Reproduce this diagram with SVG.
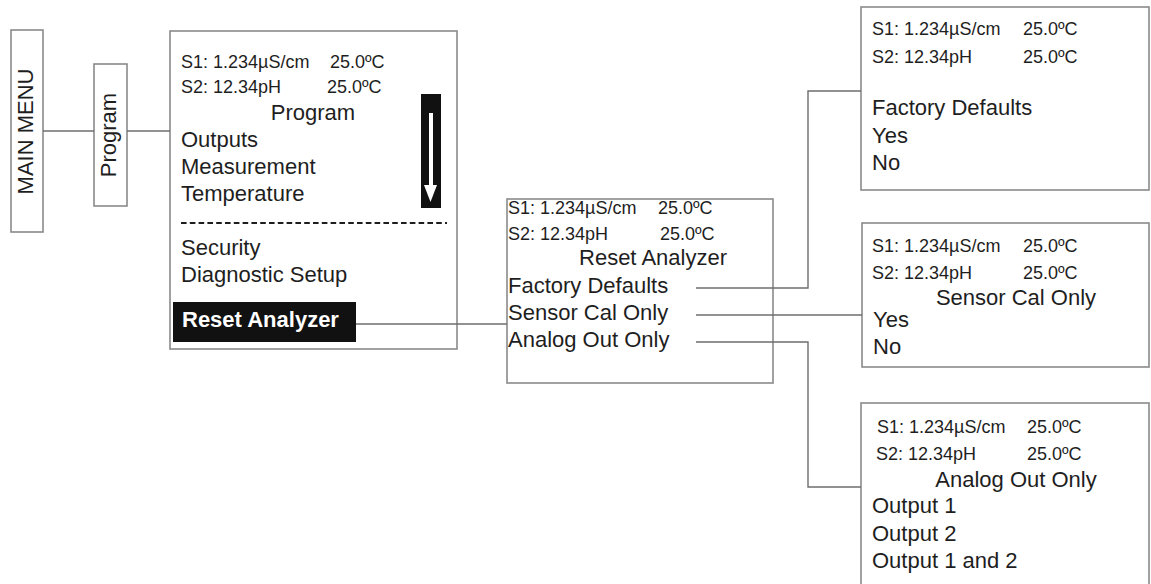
<svg xmlns="http://www.w3.org/2000/svg" width="1151" height="584" viewBox="0 0 1151 584">
<style>
  .box { fill: #ffffff; stroke: #8a8a8a; stroke-width: 1.6; }
  .conn { fill: none; stroke: #6e6e6e; stroke-width: 1.4; }
  text { font-family: "Liberation Sans", Arial, sans-serif; fill: #1e1e1e; }
  .s { font-size: 18px; }
  .m { font-size: 22px; }
  .c { text-anchor: middle; }
  .hl { font-size: 22px; font-weight: bold; fill: #ffffff; }
</style>
<rect width="1151" height="584" fill="#ffffff"/>

<g id="main-menu">
  <rect class="box" x="11" y="30" width="32" height="202"/>
  <text class="m c" transform="translate(33,131.5) rotate(-90)">MAIN MENU</text>
</g>

<g id="program">
  <rect class="box" x="94" y="64" width="33" height="142"/>
  <text class="m c" transform="translate(116,135) rotate(-90)">Program</text>
</g>

<g id="program-screen">
  <rect class="box" x="170" y="31" width="287" height="318"/>
  <text class="s" x="181" y="68">S1: 1.234µS/cm<tspan x="330">25.0ºC</tspan></text>
  <text class="s" x="181" y="93">S2: 12.34pH<tspan x="327">25.0ºC</tspan></text>
  <text class="m c" x="313" y="120">Program</text>
  <text class="m" x="181" y="147">Outputs</text>
  <text class="m" x="181" y="174">Measurement</text>
  <text class="m" x="181" y="201">Temperature</text>
  <rect x="421" y="94" width="20" height="114" fill="#111111"/>
  <rect x="429" y="113" width="4" height="74" fill="#ffffff"/>
  <polygon points="424,185 437,185 430.5,202" fill="#ffffff"/>
  <line x1="181" y1="223" x2="447" y2="223" stroke="#1e1e1e" stroke-width="2.2" stroke-dasharray="5.6 3.2"/>
  <text class="m" x="181" y="255">Security</text>
  <text class="m" x="181" y="282">Diagnostic Setup</text>
  <rect x="173" y="302" width="183" height="40" fill="#111111"/>
  <text class="hl" x="182" y="327">Reset Analyzer</text>
</g>

<g id="reset-analyzer">
  <rect class="box" x="507" y="199" width="266" height="184"/>
  <text class="s" x="508" y="214">S1: 1.234µS/cm<tspan x="658">25.0ºC</tspan></text>
  <text class="s" x="508" y="240">S2: 12.34pH<tspan x="660">25.0ºC</tspan></text>
  <text class="m c" x="653" y="265">Reset Analyzer</text>
  <text class="m" x="508" y="293">Factory Defaults</text>
  <text class="m" x="508" y="320">Sensor Cal Only</text>
  <text class="m" x="508" y="347">Analog Out Only</text>
</g>

<g id="factory-defaults">
  <rect class="box" x="861" y="7" width="288" height="183"/>
  <text class="s" x="872" y="35">S1: 1.234µS/cm<tspan x="1023">25.0ºC</tspan></text>
  <text class="s" x="872" y="63">S2: 12.34pH<tspan x="1023">25.0ºC</tspan></text>
  <text class="m" x="872" y="115">Factory Defaults</text>
  <text class="m" x="872" y="143">Yes</text>
  <text class="m" x="872" y="170">No</text>
</g>

<g id="sensor-cal-only">
  <rect class="box" x="862" y="223" width="287" height="144"/>
  <text class="s" x="872" y="252">S1: 1.234µS/cm<tspan x="1023">25.0ºC</tspan></text>
  <text class="s" x="872" y="279">S2: 12.34pH<tspan x="1023">25.0ºC</tspan></text>
  <text class="m c" x="1016" y="305">Sensor Cal Only</text>
  <text class="m" x="873" y="327">Yes</text>
  <text class="m" x="873" y="354">No</text>
</g>

<g id="analog-out-only">
  <rect class="box" x="861" y="403" width="288" height="200"/>
  <text class="s" x="877" y="433">S1: 1.234µS/cm<tspan x="1027">25.0ºC</tspan></text>
  <text class="s" x="876" y="460">S2: 12.34pH<tspan x="1027">25.0ºC</tspan></text>
  <text class="m c" x="1016" y="487">Analog Out Only</text>
  <text class="m" x="872" y="513">Output 1</text>
  <text class="m" x="872" y="541">Output 2</text>
  <text class="m" x="872" y="568">Output 1 and 2</text>
</g>

<g id="connectors">
  <line class="conn" x1="43" y1="131" x2="94" y2="131"/>
  <line class="conn" x1="127" y1="131" x2="170" y2="131"/>
  <line class="conn" x1="356" y1="324" x2="507" y2="324"/>
  <polyline class="conn" points="696,288 808,288 808,91 861,91"/>
  <line class="conn" x1="696" y1="315" x2="862" y2="315"/>
  <polyline class="conn" points="696,342 808,342 808,487 861,487"/>
</g>
</svg>
